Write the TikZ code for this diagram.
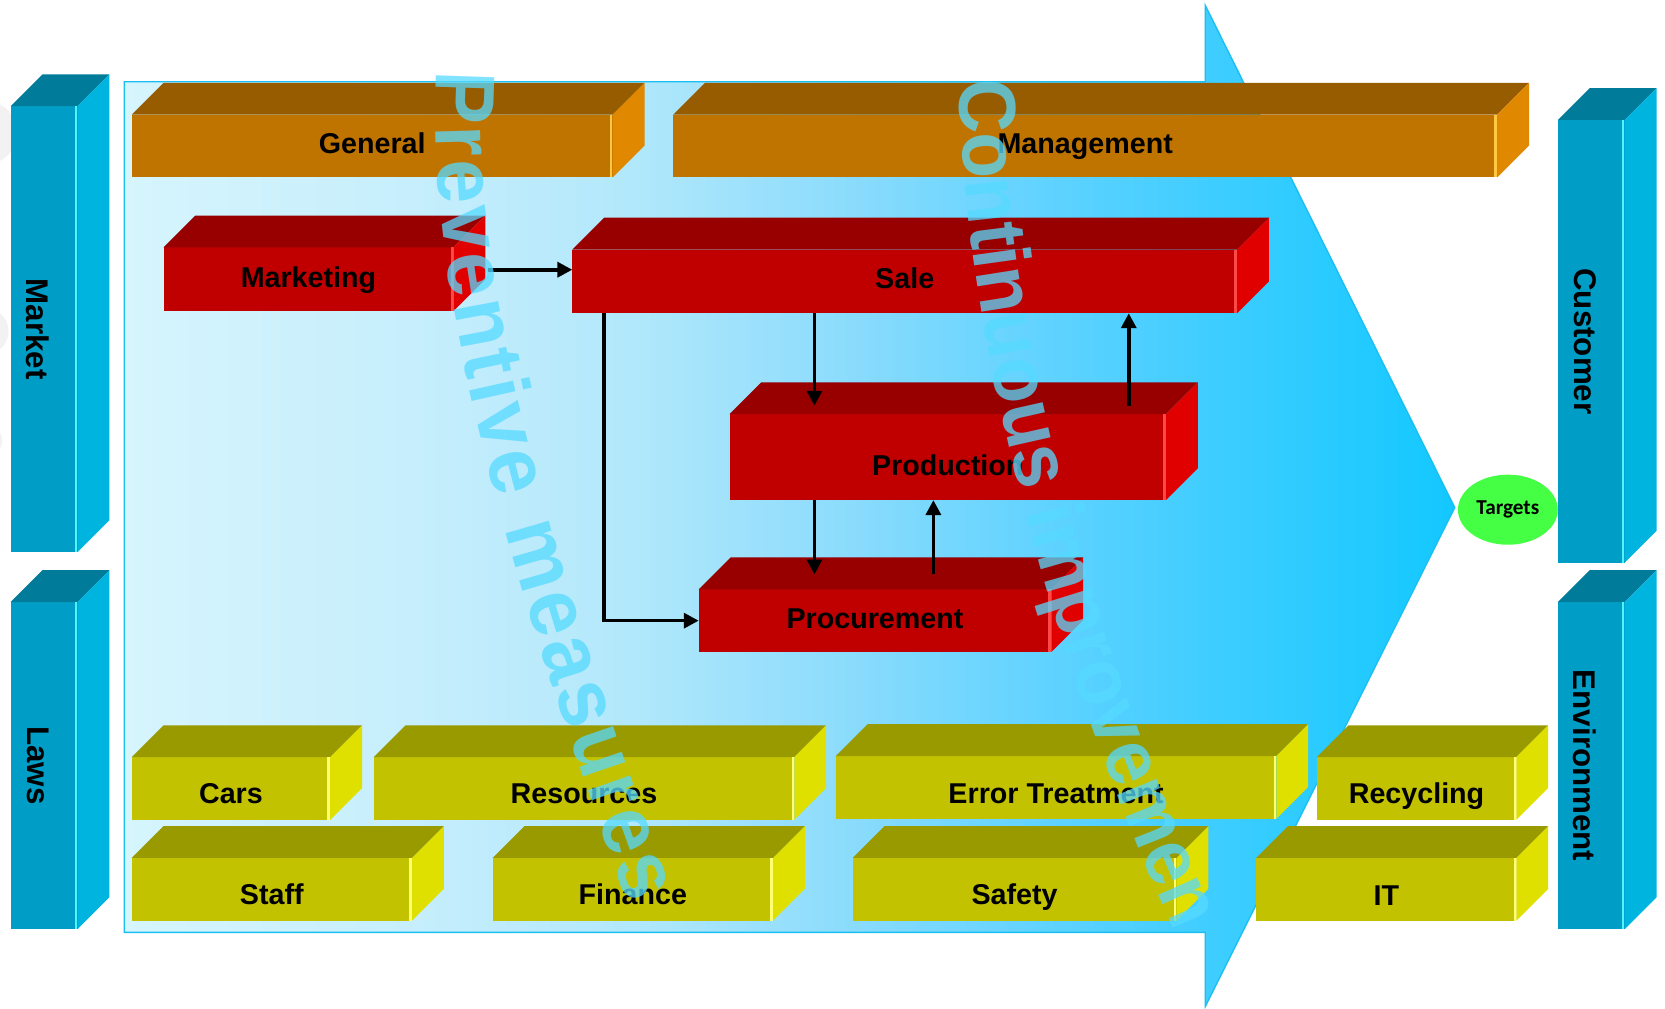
\documentclass[tikz,border=0pt]{standalone}
\usepackage{fontspec}
\setmainfont{Liberation Sans}
\newfontfamily\calfont{Carlito}
\newfontfamily\wmfont[FakeStretch=0.93]{Liberation Sans}
\usetikzlibrary{shapes.geometric,decorations.text,calc,arrows.meta}

\definecolor{orT}{HTML}{985C00}\definecolor{orF}{HTML}{C07400}\definecolor{orS}{HTML}{E08800}\definecolor{orH}{HTML}{FFC840}
\definecolor{rdT}{HTML}{980000}\definecolor{rdF}{HTML}{C00000}\definecolor{rdS}{HTML}{E00000}\definecolor{rdH}{HTML}{FF4848}
\definecolor{ylT}{HTML}{999900}\definecolor{ylF}{HTML}{C2C200}\definecolor{ylS}{HTML}{E0E000}\definecolor{ylH}{HTML}{FFFF70}
\definecolor{cyT}{HTML}{007C9A}\definecolor{cyF}{HTML}{009EC6}\definecolor{cyS}{HTML}{00B4E0}\definecolor{cyH}{HTML}{50F4FF}
\definecolor{s0}{HTML}{D6F5FD}\definecolor{s1}{HTML}{C6EEFC}\definecolor{s2}{HTML}{B2E8FB}
\definecolor{s3}{HTML}{8CDCFC}\definecolor{s4}{HTML}{5ED2FF}\definecolor{s5}{HTML}{3ECDFF}\definecolor{s6}{HTML}{12C8FF}
\definecolor{bord}{HTML}{18BFF0}
\definecolor{tgreen}{HTML}{44FF44}
\definecolor{wm}{HTML}{56DAFF}

\pgfdeclarehorizontalshading{bgshade}{100bp}{color(0bp)=(s0); color(25bp)=(s0); color(36bp)=(s1); color(44bp)=(s2); color(52bp)=(s3); color(60bp)=(s4); color(66bp)=(s5); color(75bp)=(s6); color(100bp)=(s6)}

\tikzset{
  face/.style={inner sep=0pt, outer sep=0pt},
  lab/.style={inner sep=0pt, text height=19.3pt, text depth=0pt, font=\bfseries\fontsize{27}{30}\selectfont, text=black},
  sidelab/.style={rotate=-90, inner sep=0pt, font=\bfseries\fontsize{29.5}{32}\selectfont, text=black},
  arr/.style={-{Triangle[length=14pt,width=14pt]}, line width=3.4pt, black},
  pmtext/.style={decorate, decoration={text along path, text align=fit to path,
    text={|\wmfont\bfseries\fontsize{80}{84}\selectfont\color{#1}|Preventive measures}}},
  citext/.style={decorate, decoration={text along path, text align=fit to path,
    text={|\wmfont\bfseries\fontsize{76}{80}\selectfont\color{#1}|Continuous improvement}}},
}

% name, x1, y1, x2, y2, scheme
\newcommand\mycube[6]{%
  \node[face, fill=#6F, minimum width={#4-#2}, minimum height={#5-#3}, anchor=north west] (#1) at (#2,#3) {};
  \fill[#6T] (#1.north west) -- ++(30,-30) -- ([shift={(30,-30)}]#1.north east) -- (#1.north east) -- cycle;
  \fill[#6S] (#1.north east) -- ++(30,-30) -- ([shift={(30,-30)}]#1.south east) -- (#1.south east) -- cycle;
  \draw[#6H, line width=2.2pt] ([xshift=-1.5pt]#1.north east) -- ([xshift=-1.5pt]#1.south east);
}
\newcommand\mylabel[3][0]{\node[lab] (#2L) at ([yshift=-#1pt]#2.center) {#3};}

\begin{document}
\begin{tikzpicture}[x=1pt,y=-1pt]
\useasboundingbox (0,0) rectangle (1568,950);
\fill[white] (0,0) rectangle (1568,950);

% faint grey remnants at the left edge
\fill[gray!10] (-14,125) circle[radius=30];
\fill[gray!10] (-14,312) circle[radius=22];
\fill[gray!10] (-14,415) circle[radius=16];

% big arrow
\shade[shading=bgshade] (117,77) -- (1135,77) -- (1135,5) -- (1370,478) -- (1135,948) -- (1135,878) -- (117,878) -- cycle;
\draw[bord, line width=1.3pt] (117,77) -- (1135,77) -- (1135,5) -- (1370,478) -- (1135,948) -- (1135,878) -- (117,878) -- cycle;

% side bars
\mycube{market}{10}{100}{73}{520}{cy}
\mycube{laws}{10}{567}{73}{875}{cy}
\mycube{cust}{1467}{113}{1530}{530}{cy}
\mycube{env}{1467}{567}{1530}{875}{cy}
\node[sidelab] (marketL) at ([xshift=-6pt]market.center) {Market};
\node[sidelab] (lawsL) at ([xshift=-6pt]laws.center) {Laws};
\node[sidelab] (custL) at ([xshift=-6pt]cust.center) {Customer};
\node[sidelab] (envL) at ([xshift=-6pt]env.center) {Environment};

% boxes
\mycube{general}{124}{108}{577}{167}{or}
\mycube{mgmt}{634}{108}{1410}{167}{or}
\mycube{mkt}{154}{233}{427}{293}{rd}
\mycube{sale}{539}{235}{1165}{295}{rd}
\mycube{prod}{687}{390}{1098}{471}{rd}
\mycube{proc}{658}{555}{990}{614}{rd}
\mycube{cars}{124}{713}{311}{772}{yl}
\mycube{res}{352}{713}{748}{772}{yl}
\mycube{err}{787}{712}{1202}{771}{yl}
\mycube{rec}{1240}{713}{1428}{772}{yl}
\mycube{staff}{124}{808}{388}{867}{yl}
\mycube{fin}{464}{808}{728}{867}{yl}
\mycube{saf}{803}{808}{1108}{867}{yl}
\mycube{it}{1183}{808}{1428}{867}{yl}

\mylabel[-2.5]{general}{General}
\mylabel[-2.5]{mgmt}{Management}
\mylabel[-2]{mkt}{Marketing}
\mylabel[-3]{sale}{Sale}
\mylabel[7.5]{prod}{Production}
\mylabel[-2]{proc}{Procurement}
\mylabel[5]{cars}{Cars}
\mylabel[5]{res}{Resources}
\mylabel[5.5]{err}{Error Treatment}
\mylabel[5]{rec}{Recycling}
\mylabel[5]{staff}{Staff}
\mylabel[5]{fin}{Finance}
\mylabel[5]{saf}{Safety}
\mylabel[5.5]{it}{IT}

% targets
\node[ellipse, fill=tgreen, minimum width=94pt, minimum height=66pt, inner sep=0pt,
      font=\calfont\bfseries\fontsize{20}{21}\selectfont] (tg) at (1420,480) {Targets};

% connectors
\coordinate (xA) at (767,0);
\coordinate (xB) at (1063,0);
\coordinate (xC) at (879,0);
\coordinate (m1) at ($(mkt.east)+(33,-9)$);
\draw[arr] (m1) -- (m1 -| sale.west);
\draw[arr] ($(sale.south west)+(30,0)$) |- (proc.west);
\draw[arr] (sale.south -| xA) -- ($(prod.north -| xA)+(0,-8)$);
\draw[arr] ($(prod.north -| xB)+(0,-8)$) -- (sale.south -| xB);
\draw[arr] (prod.south -| xA) -- ($(proc.north -| xA)+(0,-14)$);
\draw[arr] ($(proc.north -| xC)+(0,-14)$) -- (prod.south -| xC);

% watermark texts
\begin{scope}[opacity=0.75]
\path[pmtext=wm] (412,66) .. controls (398,250) and (470,520) .. (592,852);
\path[citext=wm] (903,76) .. controls (910,330) and (990,620) .. (1108,880);
\end{scope}
\end{tikzpicture}
\end{document}
